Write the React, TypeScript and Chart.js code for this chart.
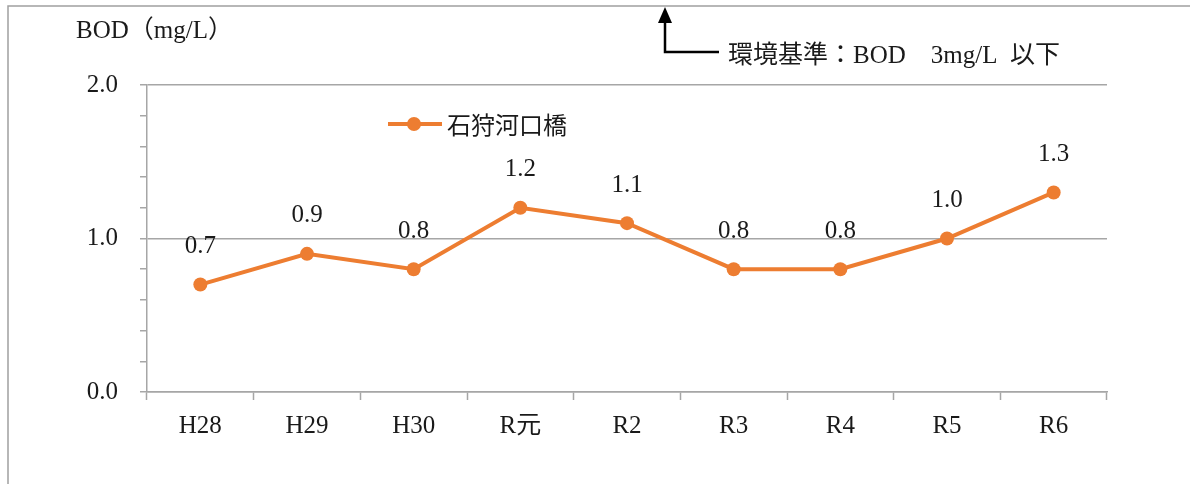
import React, { useEffect, useRef } from "react";
import { Chart, registerables } from "chart.js";

Chart.register(...registerables);

const categories = ["H28", "H29", "H30", "R元", "R2", "R3", "R4", "R5", "R6"];
const bodValues = [0.7, 0.9, 0.8, 1.2, 1.1, 0.8, 0.8, 1.0, 1.3];
const seriesName = "石狩河口橋";
const yAxisTitle = "BOD（mg/L）";
const standardNote = "環境基準：BOD　3mg/L  以下";

const ORANGE = "#ED7D31";
const GRID = "#a6a6a6";
const TEXT = "#1a1a1a";
const SERIF = "'Liberation Serif', 'Noto Sans CJK JP', serif";
const CJK = "'Noto Sans CJK JP', 'Liberation Serif', sans-serif";

const decorPlugin = {
  id: "decor",
  beforeDraw(chart: any) {
    const ctx = chart.ctx;
    ctx.save();
    ctx.strokeStyle = "#a0a0a0";
    ctx.lineWidth = 1.5;
    ctx.beginPath();
    ctx.moveTo(8, 484);
    ctx.lineTo(8, 6);
    ctx.lineTo(1190, 6);
    ctx.stroke();
    ctx.restore();
  },
  afterDraw(chart: any) {
    const ctx = chart.ctx;
    ctx.save();
    // y axis title
    ctx.fillStyle = TEXT;
    ctx.font = `25px ${SERIF}`;
    ctx.textBaseline = "middle";
    ctx.textAlign = "left";
    ctx.fillText(yAxisTitle, 76, 31);

    // arrow + note
    ctx.strokeStyle = "#000";
    ctx.lineWidth = 2.5;
    ctx.beginPath();
    ctx.moveTo(665, 20);
    ctx.lineTo(665, 52);
    ctx.lineTo(719, 52);
    ctx.stroke();
    ctx.fillStyle = "#000";
    ctx.beginPath();
    ctx.moveTo(665, 7);
    ctx.lineTo(658, 23);
    ctx.lineTo(672, 23);
    ctx.closePath();
    ctx.fill();
    ctx.fillStyle = TEXT;
    ctx.font = `25px ${SERIF}`;
    ctx.fillText(standardNote, 728, 56);

    // legend
    const ly = 124;
    ctx.strokeStyle = ORANGE;
    ctx.lineWidth = 4;
    ctx.beginPath();
    ctx.moveTo(388, ly);
    ctx.lineTo(442, ly);
    ctx.stroke();
    ctx.fillStyle = ORANGE;
    ctx.beginPath();
    ctx.arc(414, ly, 7, 0, Math.PI * 2);
    ctx.fill();
    ctx.fillStyle = TEXT;
    ctx.font = `24px ${CJK}`;
    ctx.fillText(seriesName, 447, ly + 1);

    // data labels
    const meta = chart.getDatasetMeta(0);
    const data = chart.data.datasets[0].data;
    ctx.font = `25px ${SERIF}`;
    ctx.textAlign = "center";
    ctx.fillStyle = TEXT;
    meta.data.forEach((el: any, i: number) => {
      ctx.fillText(Number(data[i]).toFixed(1), el.x, el.y - 38);
    });
    ctx.restore();
  },
};

export default function App() {
  const ref = useRef<HTMLCanvasElement | null>(null);
  useEffect(() => {
    if (!ref.current) return;
    const chart = new Chart(ref.current, {
      type: "line",
      data: {
        labels: categories,
        datasets: [
          {
            label: seriesName,
            data: bodValues,
            borderColor: ORANGE,
            backgroundColor: ORANGE,
            borderWidth: 4,
            pointRadius: 7,
            pointHoverRadius: 7,
            pointBackgroundColor: ORANGE,
            pointBorderWidth: 0,
            tension: 0,
          },
        ],
      },
      options: {
        responsive: false,
        animation: false,
        layout: { padding: { left: 0, top: 85, right: 83, bottom: 0 } },
        plugins: {
          legend: { display: false },
          tooltip: { enabled: false },
          title: { display: false },
        },
        scales: {
          x: {
            offset: true,
            grid: {
              offset: true,
              drawOnChartArea: false,
              drawTicks: true,
              tickLength: 8,
              tickColor: GRID,
              tickWidth: 1.5,
            },
            border: { color: GRID, width: 1.5 },
            ticks: {
              color: TEXT,
              font: { family: SERIF, size: 25 },
              padding: 11,
              maxRotation: 0,
              autoSkip: false,
            },
            afterFit(scale: any) {
              scale.height = 92;
            },
          },
          y: {
            min: 0,
            max: 2,
            ticks: {
              stepSize: 0.2,
              autoSkip: false,
              color: TEXT,
              font: { family: SERIF, size: 25 },
              padding: 22,
              callback: (v: any) => {
                const n = Number(v);
                return Math.abs(n - Math.round(n)) < 1e-6 ? n.toFixed(1) : "";
              },
            },
            grid: {
              color: (c: any) => {
                const n = c.tick ? c.tick.value : 0;
                return Math.abs(n - Math.round(n)) < 1e-6 ? GRID : "rgba(0,0,0,0)";
              },
              lineWidth: 1.5,
              tickLength: 7,
              tickColor: GRID,
              tickWidth: 1.5,
            },
            border: { color: GRID, width: 1.5 },
            afterFit(scale: any) {
              scale.width = 147;
            },
          },
        },
      },
      plugins: [decorPlugin],
    });
    return () => chart.destroy();
  }, []);
  return (
    <canvas
      ref={ref}
      width={1190}
      height={484}
      style={{ position: "absolute", left: 0, top: 0, display: "block", background: "#fff" }}
    />
  );
}
